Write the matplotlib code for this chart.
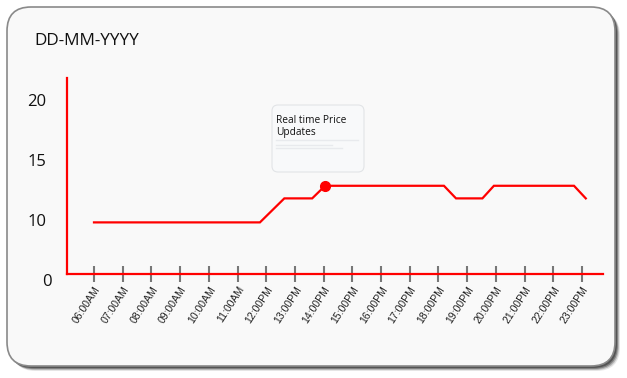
import numpy as np
import matplotlib
matplotlib.use("Agg")
import matplotlib.pyplot as plt
import matplotlib.patches as mpatches
from matplotlib.transforms import IdentityTransform, blended_transform_factory

# data (x in hours of the day)
hours = list(range(6, 24))
hour_labels = [f"{h:02d}:00AM" if h < 12 else f"{h:02d}:00PM" for h in hours]
price_time = [6.0, 11.78, 12.63, 13.6, 14.05, 18.19, 18.61, 19.53, 19.93, 22.72, 23.13]
price = [9.8, 9.8, 11.8, 11.8, 12.85, 12.85, 11.8, 11.8, 12.85, 12.85, 11.8]
marker_idx = 4
y_ticks = [10, 15, 20]

W, H = 627, 378
fig = plt.figure(figsize=(W / 100, H / 100), dpi=100)
fig.patch.set_facecolor("white")

# card with shadow (pixel coords, origin bottom-left)
cx0, cy0, cx1, cy1 = 7, H - 366, 615, H - 7
for off, a in [(5, 0.12), (4, 0.25), (3, 0.4), (2, 0.55)]:
    sh = mpatches.FancyBboxPatch((cx0 + off, cy0 - off), cx1 - cx0, cy1 - cy0,
                                 boxstyle="round,pad=0,rounding_size=24",
                                 transform=IdentityTransform(), facecolor="#303030",
                                 edgecolor="none", alpha=a, zorder=-10)
    fig.patches.append(sh)
card = mpatches.FancyBboxPatch((cx0, cy0), cx1 - cx0, cy1 - cy0,
                               boxstyle="round,pad=0,rounding_size=24",
                               transform=IdentityTransform(), facecolor="#f9f9f9",
                               edgecolor="#8a8a8a", linewidth=1.2, zorder=-9)
fig.patches.append(card)

fig.text(34 / W, 1 - 41 / H, "DD-MM-YYYY", fontsize=12.3, family="Open Sans",
         color="#111111", va="center", ha="left")

ax = fig.add_axes([67 / W, 1 - 274 / H, (603 - 67) / W, (274 - 78) / H])
ax.set_facecolor("none")

ax.plot(price_time, price, color="#ff0000", linewidth=1.6, solid_joinstyle="miter")
ax.plot(price_time[marker_idx], price[marker_idx], "o", color="#ff0000", markersize=7)

ax.set_xlim(5.06, 23.73)
ax.set_ylim(5.5, 21.83)

for s in ["top", "right"]:
    ax.spines[s].set_visible(False)
for s in ["left", "bottom"]:
    ax.spines[s].set_color("#ff0000")
    ax.spines[s].set_linewidth(1.6)

ax.set_yticks(y_ticks)
ax.set_yticklabels([str(v) for v in y_ticks], fontsize=12, family="Open Sans", color="#111111")
ax.tick_params(axis="y", length=0, pad=15)
# the "0" label sits just below the x axis
ax.text(-15 / 536, 4.8, "0", transform=blended_transform_factory(ax.transAxes, ax.transData),
        fontsize=12, family="Open Sans", color="#111111", ha="right", va="center", clip_on=False)

ax.set_xticks(hours)
ax.set_xticklabels(hour_labels, rotation=57, ha="right", va="top", rotation_mode="anchor",
                   fontsize=7.6, family="Liberation Sans", color="#222222")
for lbl in ax.get_xticklabels():
    lbl.set_x(lbl.get_position()[0])
ax.tick_params(axis="x", direction="inout", length=11, width=1.5, color="#777777", pad=2)

# tooltip card
tx0, ty0, tx1, ty1 = 272, H - 172, 364, H - 105
tip = mpatches.FancyBboxPatch((tx0, ty0), tx1 - tx0, ty1 - ty0,
                              boxstyle="round,pad=0,rounding_size=6",
                              transform=IdentityTransform(), facecolor="#f8f9fa",
                              edgecolor="#e2e4e7", linewidth=0.8, zorder=5)
fig.patches.append(tip)
fig.text(276 / W, 1 - 115 / H, "Real time Price\nUpdates", fontsize=7.3, family="Open Sans",
         color="#111111", va="top", ha="left", linespacing=1.1, zorder=6)
for yy, xe in [(140.5, 358), (144.7, 332), (148.3, 342)]:
    fig.add_artist(plt.Line2D([276 / W, xe / W], [1 - yy / H, 1 - yy / H],
                              color="#e8eaed", linewidth=1.0, zorder=6))

fig.savefig("out.png", dpi=100)
